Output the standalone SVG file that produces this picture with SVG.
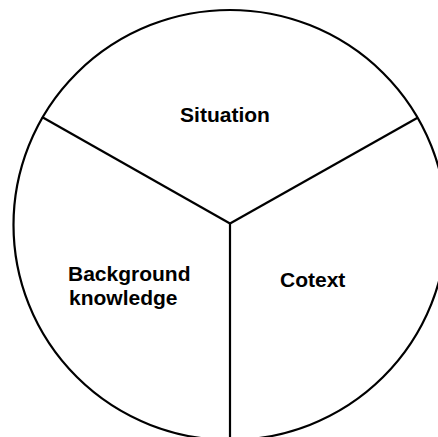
<svg xmlns="http://www.w3.org/2000/svg" width="438" height="437" viewBox="0 0 438 437">
<style>
.sh{fill:none;stroke:#000;stroke-width:2.2}
.lbl{font-family:"Liberation Sans",Arial,sans-serif;font-weight:bold;font-size:21px;fill:#000}
</style>
<rect width="438" height="437" fill="#fff"/>
<g id="circle"><ellipse class="sh" cx="230" cy="225" rx="216.5" ry="215"/></g>
<g id="connectors">
<line class="sh" x1="230" y1="223.5" x2="42" y2="117"/>
<line class="sh" x1="230" y1="223.5" x2="418" y2="117.5"/>
<line class="sh" x1="230" y1="223.5" x2="230" y2="437"/>
</g>
<g id="situation"><text class="lbl" x="225" y="122" text-anchor="middle">Situation</text></g>
<g id="background"><text class="lbl" x="68" y="281">Background</text><text class="lbl" x="69" y="305">knowledge</text></g>
<g id="cotext"><text class="lbl" x="280" y="287">Cotext</text></g>
</svg>
